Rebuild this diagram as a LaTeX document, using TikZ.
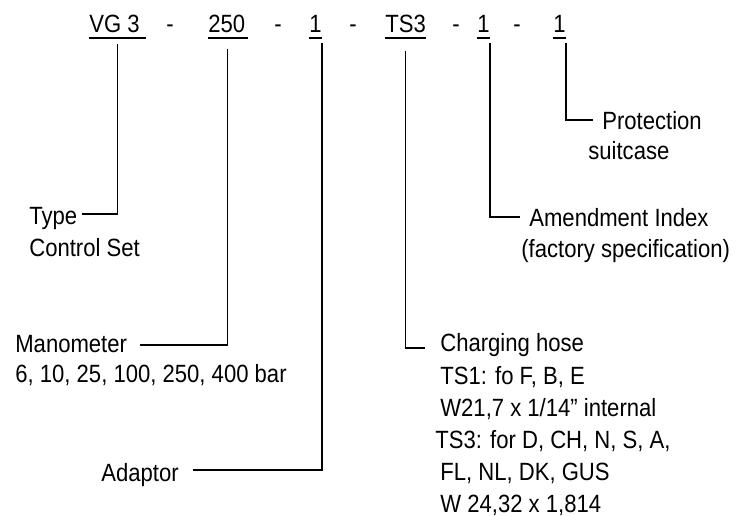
\documentclass[tikz,border=0pt]{standalone}
\usepackage{fontspec}
\setmainfont{Liberation Sans}[FakeStretch=0.885]
\usetikzlibrary{positioning}

\tikzset{
  code/.style={anchor=base west, inner sep=0pt},
  hyph/.style={anchor=base, inner sep=0pt},
  head/.style={anchor=base west, inner sep=0pt, text height=0.44cm, text depth=0pt},
  info/.style={anchor=base west, inner sep=0pt, align=left},
  uline/.style={line width=0.8pt},
  lead/.style={line width=0.6pt, shorten <=0.2cm}
}

\begin{document}
\begin{tikzpicture}[x=0.02cm, y=-0.02cm, font=\fontsize{14.2pt}{18.3pt}\selectfont]
  \useasboundingbox (0,0) rectangle (754,516);

  % order code
  \node[code] (vg)   at (89,33)  {VG 3\hspace*{0.12cm}};
  \node[code] (bar)  at (208,33) {250\hspace*{0.04cm}};
  \node[code] (adp)  at (309,33) {1};
  \node[code] (hose) at (385,33) {TS3};
  \node[code] (idx)  at (477,33) {1};
  \node[code] (case) at (553,33) {1};
  \node[hyph] (d1) at (170,33) {-};
  \node[hyph] (d2) at (278,33) {-};
  \node[hyph] (d3) at (353,33) {-};
  \node[hyph] (d4) at (456,33) {-};
  \node[hyph] (d5) at (517,33) {-};
  \foreach \n in {vg,bar,adp,hose,idx,case}{
    \draw[uline] ([yshift=-0.1cm]\n.base west) -- ([yshift=-0.1cm]\n.base east); }

  % meanings (a multi-line node sits on its last line)
  \node[head] (type)  at (29,225)  {Type};
  \node[info] (typeb) at (29,257)  {Control Set};
  \node[head] (man)   at (15,353)  {Manometer};
  \node[info] (manb)  at (15,383)  {6, 10, 25, 100, 250, 400 bar};
  \node[head] (ada)   at (101,482) {Adaptor};
  \node[head] (chg)   at (440,352) {Charging hose};
  \node[info] (chgb)  at (440,513) {TS1: fo F, B, E\\W21,7 x 1/14” internal\\\hspace*{-0.1cm}TS3: for D, CH, N, S, A,\\FL, NL, DK, GUS\\W 24,32 x 1,814};
  \node[head] (amd)   at (529,227) {Amendment Index};
  \node[info] (amdb)  at (521,258) {(factory specification)};
  \node[head] (prot)  at (602,130) {Protection};
  \node[info] (protb) at (588,160) {suitcase};

  % leaders
  \draw[lead, shorten >=0.08cm] (vg.south) |- (type.east);
  \draw[lead, shorten <=0.3cm, shorten >=0.26cm] (bar.south) |- ([yshift=-0.06cm]man.east);
  \draw[lead, shorten >=0.28cm] (adp.south east) |- ([yshift=0.02cm]ada.east);
  \draw[lead, shorten <=0.34cm, shorten >=0.3cm] (hose.south) |- ([yshift=-0.14cm]chg.west);
  \draw[lead, shorten >=0.18cm] (idx.south east) |- ([yshift=-0.02cm]amd.west);
  \draw[lead, shorten >=0.18cm] (case.south east) |- ([yshift=-0.02cm]prot.west);
\end{tikzpicture}
\end{document}
